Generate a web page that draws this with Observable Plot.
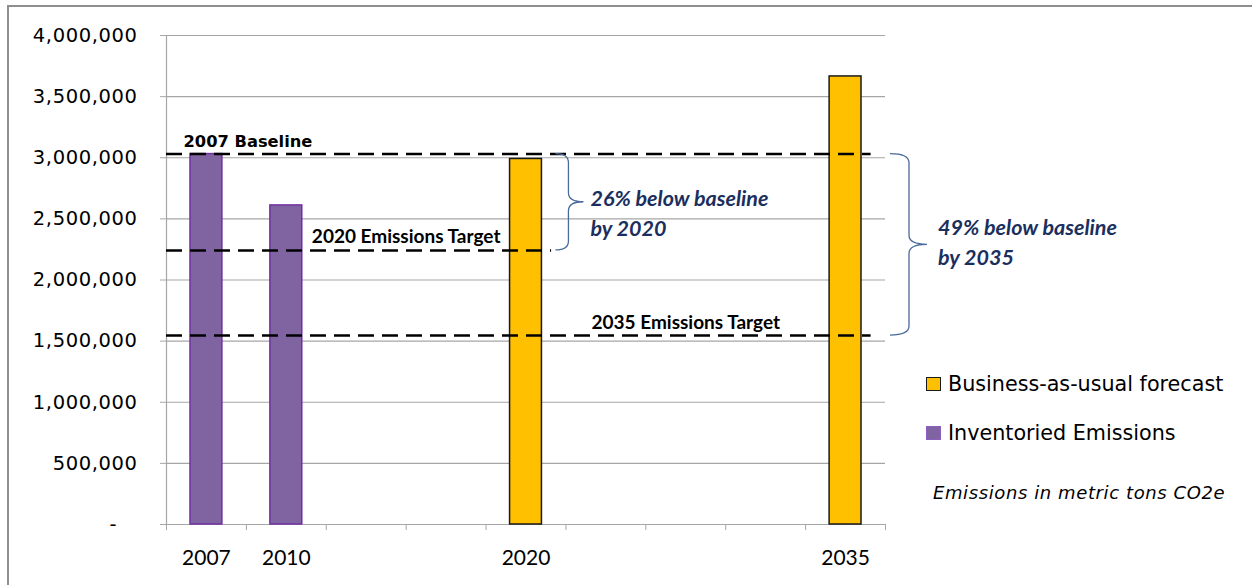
<!DOCTYPE html>
<html>
<head>
<meta charset="utf-8">
<script src="https://cdn.jsdelivr.net/npm/d3@7"></script>
<script src="https://cdn.jsdelivr.net/npm/@observablehq/plot@0.6"></script>
<style>
  html, body { margin: 0; padding: 0; background: #fff; }
  #wrap { position: relative; width: 1252px; height: 585px; overflow: hidden; font-family: "DejaVu Sans", sans-serif; }
  #frame { position: absolute; left: 7px; top: 5px; width: 1400px; height: 800px; border-left: 2px solid #8e8e8e; border-top: 2px solid #8e8e8e; }
  #chart { position: absolute; left: 0; top: 0; }
  #chart g[aria-label="y-axis tick label"] text { font-family: "DejaVu Sans"; letter-spacing: 0.6px; }
  .sw { position: absolute; box-sizing: border-box; width: 15px; height: 14px; border-width: 1.5px; border-style: solid; }
  .lt { position: absolute; white-space: nowrap; line-height: 1.2; color: #000; font-family: "DejaVu Sans"; }
</style>
</head>
<body>
<div id="wrap">
  <div id="frame"></div>
  <div id="chart"></div>
  <div id="legend"></div>
</div>
<script>
// ---- data ----
const slots = ["2007", "2010", "", "", "2020", "", "", "", "2035"];
const inventoriedYears = ["2007", "2010"];
const inventoriedValues = [3030000, 2610000];
const forecastYears = ["2020", "2035"];
const forecastValues = [2990000, 3665000];
const yTicks = [0, 500000, 1000000, 1500000, 2000000, 2500000, 3000000, 3500000, 4000000];
const targetNames = ["2007 Baseline", "2020 Emissions Target", "2035 Emissions Target"];
const targetValues = [3030000, 2242000, 1545000];
const targetEndYears = ["2035", "2020", "2035"];
const reductionTexts = [["26% below baseline", "by 2020"], ["49% below baseline", "by 2035"]];
const reductionValues = [2242000, 1545000];
const seriesNames = ["Business-as-usual forecast", "Inventoried Emissions"];
const unitNote = "Emissions in metric tons CO2e";

// ---- styles ----
const FILL = {forecast: "#ffc000", inventoried: "#8064a2"};
const EDGE = {forecast: "#1a1a1a", inventoried: "#7030a0"};
const GRID = "#a6a6a6";

// ---- derived tables ----
const slotOf = (y) => slots.indexOf(y);
const inventoried = inventoriedYears.map((year, i) => ({year, slot: slotOf(year), value: inventoriedValues[i]}));
const forecast = forecastYears.map((year, i) => ({year, slot: slotOf(year), value: forecastValues[i]}));
const dataYears = [...inventoriedYears, ...forecastYears];
const targets = targetNames.map((name, i) => ({name, value: targetValues[i], endYear: targetEndYears[i], end: slotOf(targetEndYears[i])}));
const baseline = targetValues[0];

const fmtY = (d) => d === 0 ? "-\u00a0\u00a0\u00a0" : d3.format(",")(d);

function reductionBraces(index, scales) {
  const {x, y} = scales;
  const g = d3.create("svg:g");
  const specs = [
    {xl: x(slotOf("2020") + 1) - 10, w1: 13, w2: 15, gap: 7, off: 4.5},
    {xl: x(slots.length) + 5, w1: 19, w2: 18, gap: 11, off: -9}
  ];
  reductionValues.forEach((v, i) => {
    const s = specs[i];
    const yT = y(baseline), yB = y(v), ym = (yT + yB) / 2;
    const xv = s.xl + s.w1, xt = xv + s.w2, r = 9;
    const p = d3.path();
    p.moveTo(s.xl, yT);
    p.quadraticCurveTo(xv, yT, xv, yT + r);
    p.lineTo(xv, ym - r);
    p.quadraticCurveTo(xv, ym, xt, ym);
    p.quadraticCurveTo(xv, ym, xv, ym + r);
    p.lineTo(xv, yB - r);
    p.quadraticCurveTo(xv, yB, s.xl, yB);
    g.append("path").attr("d", p.toString()).attr("fill", "none").attr("stroke", "#4a6a9c").attr("stroke-width", 1.3);
    const t = g.append("text")
      .attr("text-anchor", "start")
      .attr("font-family", "Lato")
      .attr("font-weight", "bold")
      .attr("font-style", "italic")
      .attr("font-size", 21.5)
      .attr("fill", "#1b2f5e");
    reductionTexts[i].forEach((line, j) => {
      t.append("tspan").attr("x", xt + s.gap).attr("y", ym + s.off + j * 30).text(line);
    });
  });
  return g.node();
}

const chart = Plot.plot({
  width: 1252,
  height: 585,
  marginLeft: 166,
  marginRight: 367,
  marginTop: 35,
  marginBottom: 61,
  style: {fontFamily: "Lato", background: "transparent", overflow: "visible", color: "#000"},
  x: {domain: [0, slots.length], axis: null},
  y: {domain: [0, 4000000], axis: null},
  marks: [
    Plot.ruleY(yTicks, {stroke: GRID, strokeWidth: 1.2}),
    Plot.ruleX([0], {stroke: GRID, strokeWidth: 1.2}),
    Plot.axisY(yTicks, {tickSize: 6, tickPadding: 23, tickFormat: fmtY, stroke: GRID, fill: "#000", fontSize: 19.5, label: null}),
    Plot.axisX(d3.range(slots.length + 1), {tickSize: 6, tickFormat: () => "", stroke: GRID, label: null}),
    Plot.axisX(slots.map((s, i) => i + 0.5), {tickSize: 0, tickPadding: 26, tickFormat: (v) => slots[Math.floor(v)], fill: "#000", fontSize: 21, label: null}),
    Plot.rectY(inventoried, {x1: "slot", x2: (d) => d.slot + 1, y1: 0, y2: "value", insetLeft: 24, insetRight: 24, fill: FILL.inventoried, stroke: EDGE.inventoried, strokeWidth: 1.5}),
    Plot.rectY(forecast, {x1: "slot", x2: (d) => d.slot + 1, y1: 0, y2: "value", insetLeft: 24, insetRight: 24, fill: FILL.forecast, stroke: EDGE.forecast, strokeWidth: 1.5}),
    Plot.ruleY(targets, {y: "value", x1: 0, x2: (d) => d.end + 0.82, stroke: "#000", strokeWidth: 2.5, strokeDasharray: "16,8"}),
    Plot.text(targets.slice(0, 1), {x: 0, y: "value", text: "name", textAnchor: "start", lineAnchor: "bottom", dx: 17, dy: -7, fontFamily: "DejaVu Sans", fontWeight: "bold", fontSize: 16.3, fill: "#000"}),
    Plot.text(targets.slice(1), {
      x: (d) => (slotOf(dataYears[dataYears.indexOf(d.endYear) - 1]) + d.end) / 2 + 0.5,
      y: "value", text: "name", textAnchor: "middle", lineAnchor: "bottom", dy: -7, fontWeight: "bold", fontSize: 19, fill: "#000"
    }),
    reductionBraces
  ]
});
document.getElementById("chart").append(chart);

// ---- legend & note ----
const legend = document.getElementById("legend");
const legendFill = [FILL.forecast, FILL.inventoried];
const legendEdge = [EDGE.forecast, "#8a5fc0"];
seriesNames.forEach((name, i) => {
  const sw = document.createElement("div");
  sw.className = "sw";
  sw.style.left = "926px";
  sw.style.top = (377 + i * 49) + "px";
  sw.style.background = legendFill[i];
  sw.style.borderColor = legendEdge[i];
  legend.append(sw);
  const t = document.createElement("div");
  t.className = "lt";
  t.style.left = "948px";
  t.style.top = (371.5 + i * 49) + "px";
  t.style.fontSize = "20.7px";
  t.textContent = name;
  legend.append(t);
});
const note = document.createElement("div");
note.className = "lt";
note.style.left = "933px";
note.style.top = "482px";
note.style.fontSize = "18px";
note.style.fontStyle = "italic";
note.style.letterSpacing = "0.6px";
note.textContent = unitNote;
legend.append(note);
</script>
</body>
</html>
